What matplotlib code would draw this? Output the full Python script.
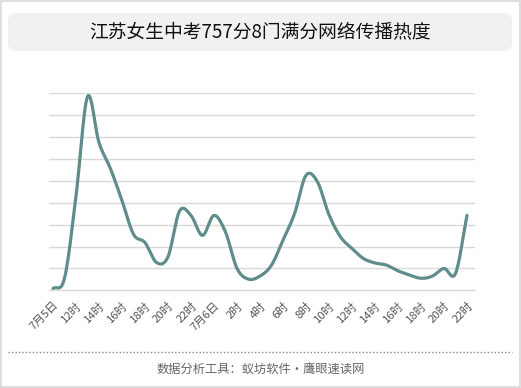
import numpy as np
import matplotlib
matplotlib.use('Agg')
from matplotlib import pyplot as plt
from matplotlib.patches import FancyBboxPatch, Rectangle
from matplotlib.lines import Line2D

plt.rcParams['font.family'] = ['Noto Sans CJK SC', 'DejaVu Sans']

title = '江苏女生中考757分8门满分网络传播热度'
footer = '数据分析工具：蚁坊软件·鹰眼速读网'

# hourly, 7/5 10时 .. 7/6 22时
heat = [0.08, 0.55, 4.3, 8.85, 6.75, 5.55, 4.1, 2.56, 2.18, 1.27,
        1.53, 3.62, 3.42, 2.51, 3.42, 2.66, 1.0, 0.51, 0.65, 1.15,
        2.29, 3.5, 5.25, 4.95, 3.45, 2.44, 1.91, 1.45, 1.25, 1.15,
        0.89, 0.7, 0.55, 0.65, 1.0, 0.77, 3.42]
tick_labels = ['7月5日', '12时', '14时', '16时', '18时', '20时', '22时',
               '7月6日', '2时', '4时', '6时', '8时', '10时', '12时',
               '14时', '16时', '18时', '20时', '22时']


def smooth(y, n=12):
    # catmull-rom through the points
    y = np.asarray(y, dtype=float)
    p = np.concatenate([[2 * y[0] - y[1]], y, [2 * y[-1] - y[-2]]])
    xs, ys = [], []
    for i in range(len(y) - 1):
        p0, p1, p2, p3 = p[i], p[i + 1], p[i + 2], p[i + 3]
        t = np.linspace(0, 1, n, endpoint=False)
        v = 0.5 * (2 * p1 + (-p0 + p2) * t + (2 * p0 - 5 * p1 + 4 * p2 - p3) * t ** 2
                   + (-p0 + 3 * p1 - 3 * p2 + p3) * t ** 3)
        xs.append(i + t)
        ys.append(v)
    xs.append([len(y) - 1])
    ys.append([y[-1]])
    return np.concatenate(xs), np.concatenate(ys)


W, H = 521, 388
fig = plt.figure(figsize=(W / 100, H / 100), dpi=100)

# outer border
fig.patches.append(Rectangle((0.5 / W, 1.5 / H), (W - 2) / W, (H - 2.5) / H,
                             transform=fig.transFigure, fill=False,
                             edgecolor='#d8d8d8', linewidth=1.2))

# title box
fig.patches.append(FancyBboxPatch((8 / W, 1 - 51 / H), 504 / W, 38 / H,
                                  boxstyle='round,pad=0,rounding_size=0.02',
                                  transform=fig.transFigure, facecolor='#f1f1f1',
                                  edgecolor='none'))
fig.text(0.5, 1 - 32 / H, title, ha='center', va='center', fontsize=13.5, color='#111111')

# footer
fig.lines.append(Line2D([8 / W, 512 / W], [1 - 352 / H] * 2, transform=fig.transFigure,
                        color='#888888', linewidth=1, linestyle=(0, (1, 1.5))))
fig.text(0.5, 1 - 369 / H, footer, ha='center', va='center', fontsize=8.8, color='#666666')

ax = fig.add_axes([49 / W, 1 - 290.3 / H, 426 / W, 197 / H])
x = np.arange(len(heat))
sx, sy = smooth(heat)
ax.plot(sx, sy, color='#5f8d8b', linewidth=2.3, solid_capstyle='round', zorder=3)

ax.set_xlim(-4 / 11.5, 36 + 8 / 11.5)
ax.set_ylim(0, 9)
ax.set_yticks(range(1, 10))
ax.yaxis.grid(True, color='#d9d9d9', linewidth=1)
ax.tick_params(axis='y', left=False, labelleft=False)
ax.set_xticks(x[::2])
ax.set_xticklabels(tick_labels, rotation=45, ha='right', va='top',
                   rotation_mode='anchor', fontsize=8.2, color='#555555')
ax.tick_params(axis='x', length=0, pad=7)
for s in ['top', 'right', 'left']:
    ax.spines[s].set_visible(False)
ax.spines['bottom'].set_color('#d9d9d9')
ax.spines['bottom'].set_linewidth(1)

fig.savefig('out.png', dpi=100)
